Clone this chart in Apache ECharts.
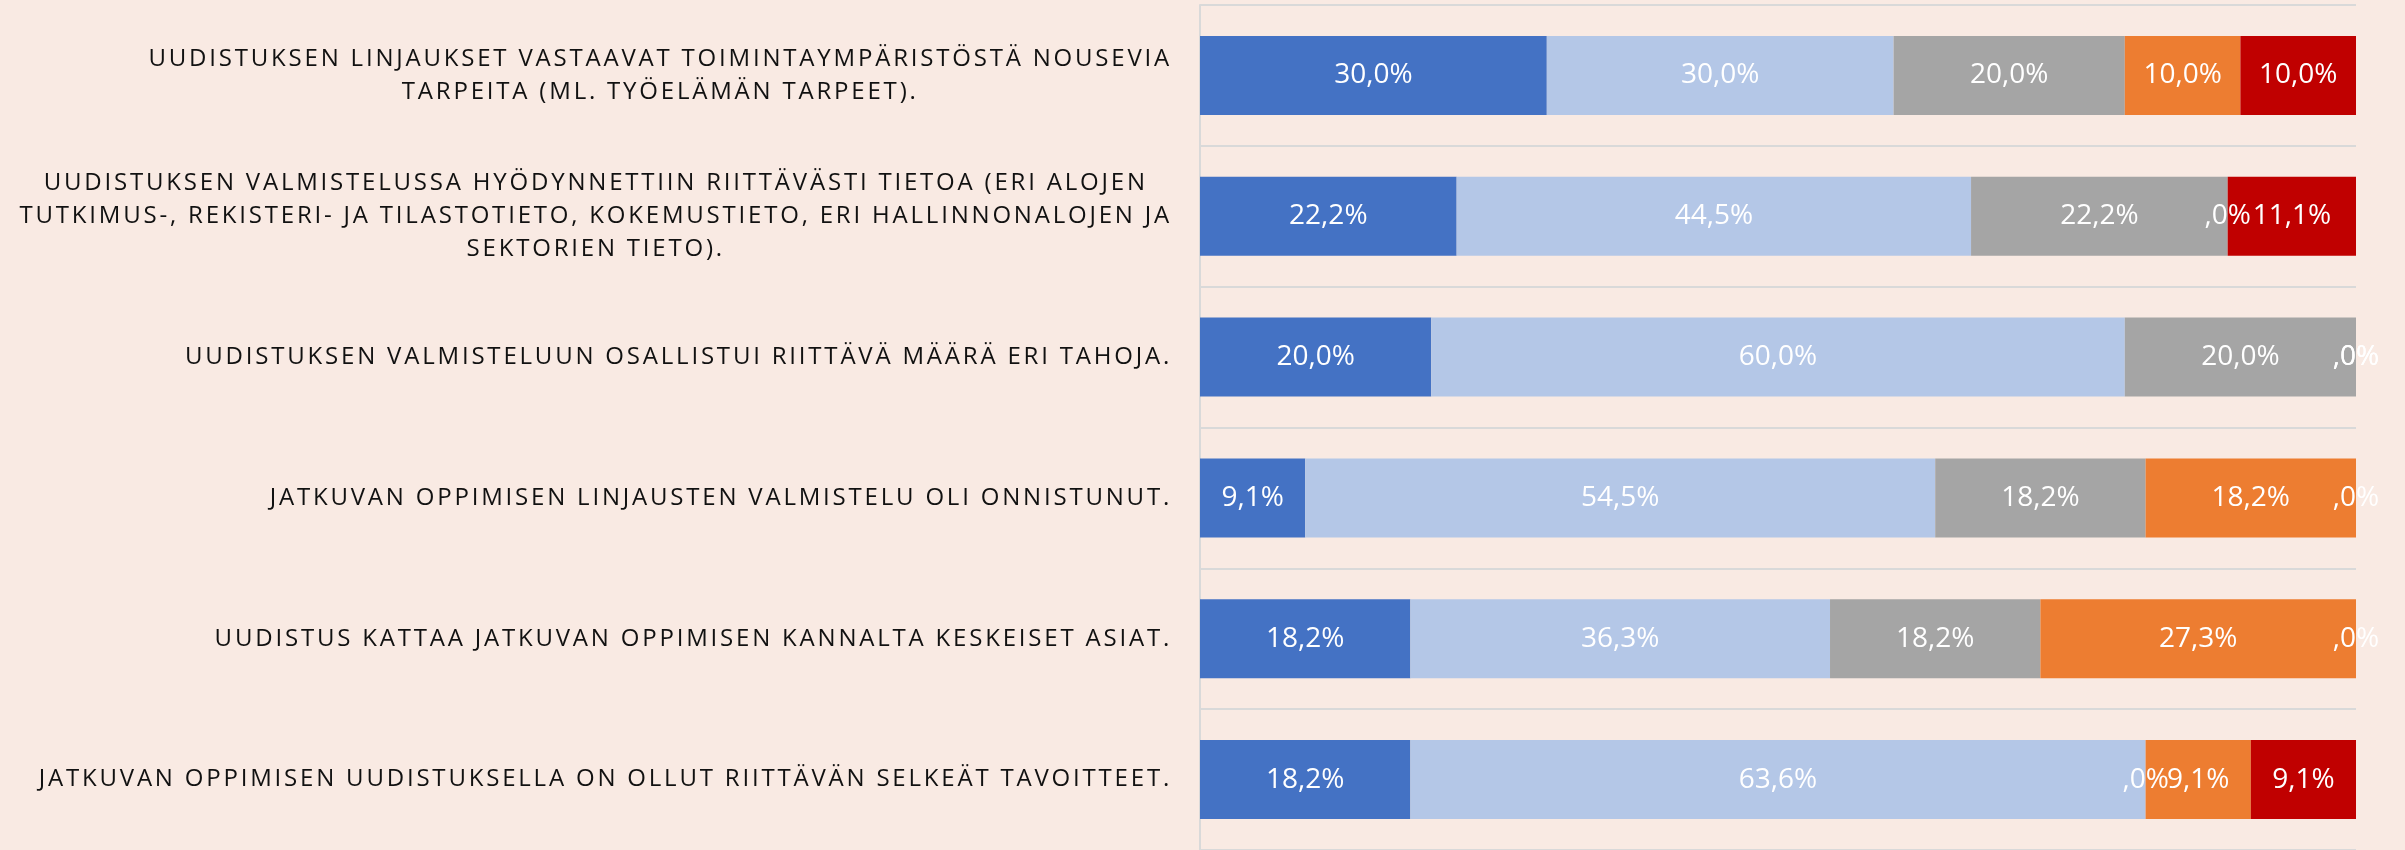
<!DOCTYPE html>
<html>
<head>
<meta charset="utf-8">
<title>Jatkuvan oppimisen uudistus</title>
<script src="https://cdn.jsdelivr.net/npm/echarts@6/dist/echarts.min.js"></script>
<style>
  html, body {
    margin: 0;
    padding: 0;
    background: #f9eae3;
  }
  #chart {
    width: 2405px;
    height: 850px;
  }
</style>
</head>
<body>
<div id="chart"></div>
<script>
const categories = [
  'UUDISTUKSEN LINJAUKSET VASTAAVAT TOIMINTAYMPÄRISTÖSTÄ NOUSEVIA\nTARPEITA (ML. TYÖELÄMÄN TARPEET).',
  'UUDISTUKSEN VALMISTELUSSA HYÖDYNNETTIIN RIITTÄVÄSTI TIETOA (ERI ALOJEN\nTUTKIMUS-, REKISTERI- JA TILASTOTIETO, KOKEMUSTIETO, ERI HALLINNONALOJEN JA\nSEKTORIEN TIETO).',
  'UUDISTUKSEN VALMISTELUUN OSALLISTUI RIITTÄVÄ MÄÄRÄ ERI TAHOJA.',
  'JATKUVAN OPPIMISEN LINJAUSTEN VALMISTELU OLI ONNISTUNUT.',
  'UUDISTUS KATTAA JATKUVAN OPPIMISEN KANNALTA KESKEISET ASIAT.',
  'JATKUVAN OPPIMISEN UUDISTUKSELLA ON OLLUT RIITTÄVÄN SELKEÄT TAVOITTEET.'
];

// shares in percent, one value per category (top to bottom)
const taysinSamaa = [30.0, 22.2, 20.0, 9.1, 18.2, 18.2];
const jokseenkinSamaa = [30.0, 44.5, 60.0, 54.5, 36.3, 63.6];
const eiSamaaEiEri = [20.0, 22.2, 20.0, 18.2, 18.2, 0];
const jokseenkinEri = [10.0, 0, 0, 18.2, 27.3, 9.1];
const taysinEri = [10.0, 11.1, 0, 0, 0, 9.1];

const seriesDefs = [
  { name: 'Täysin samaa mieltä', data: taysinSamaa, color: '#4472c4' },
  { name: 'Jokseenkin samaa mieltä', data: jokseenkinSamaa, color: '#b4c7e7' },
  { name: 'Ei samaa eikä eri mieltä', data: eiSamaaEiEri, color: '#a5a5a5' },
  { name: 'Jokseenkin eri mieltä', data: jokseenkinEri, color: '#ed7d31' },
  { name: 'Täysin eri mieltä', data: taysinEri, color: '#c00000' }
];

// Excel style "#,0%": no leading zero, comma as decimal mark
function pct(v) {
  return v.toFixed(1).replace('.', ',').replace(/^0/, '') + '%';
}

// the category labels are letter-spaced in the original; zrender has no
// letterSpacing option, so set it on the canvas context for that one font
// (measuring and drawing both go through this setter, layout stays right)
const LABEL_FONT = "'Open Sans', sans-serif";
(function () {
  const proto = CanvasRenderingContext2D.prototype;
  const desc = Object.getOwnPropertyDescriptor(proto, 'font');
  if (!desc || !('letterSpacing' in proto)) return;
  Object.defineProperty(proto, 'font', {
    configurable: true,
    get: desc.get,
    set: function (v) {
      desc.set.call(this, v);
      this.letterSpacing = String(v).indexOf('sans-serif') >= 0 ? '2.8px' : '0px';
    }
  });
})();

const chart = echarts.init(document.getElementById('chart'));

const option = {
  backgroundColor: '#f9eae3',
  animation: false,
  grid: {
    left: 1200,
    right: 49,
    top: 5,
    height: 848
  },
  xAxis: {
    type: 'value',
    min: 0,
    max: 100,
    axisLine: { show: false },
    axisTick: { show: false },
    axisLabel: { show: false },
    splitLine: { show: false }
  },
  yAxis: {
    type: 'category',
    inverse: true,
    data: categories,
    axisLine: {
      show: true,
      lineStyle: { color: '#d9d9d9', width: 2 }
    },
    axisTick: { show: false },
    splitLine: {
      show: true,
      lineStyle: { color: '#d9d9d9', width: 2 }
    },
    axisLabel: {
      margin: 28,
      formatter: function (value) {
        return value.split('\n').map(line => '{c|' + line + '}').join('\n');
      },
      rich: {
        c: {
          align: 'center',
          color: '#111111',
          fontFamily: LABEL_FONT,
          fontSize: 24,
          lineHeight: 33
        }
      }
    }
  },
  series: seriesDefs.map(s => ({
    name: s.name,
    type: 'bar',
    stack: 'total',
    barWidth: 79,
    itemStyle: { color: s.color },
    label: {
      show: true,
      position: 'inside',
      color: '#ffffff',
      fontFamily: 'Open Sans',
      fontSize: 28,
      formatter: p => pct(p.value)
    },
    data: s.data
  }))
};

chart.setOption(option);
</script>
</body>
</html>
